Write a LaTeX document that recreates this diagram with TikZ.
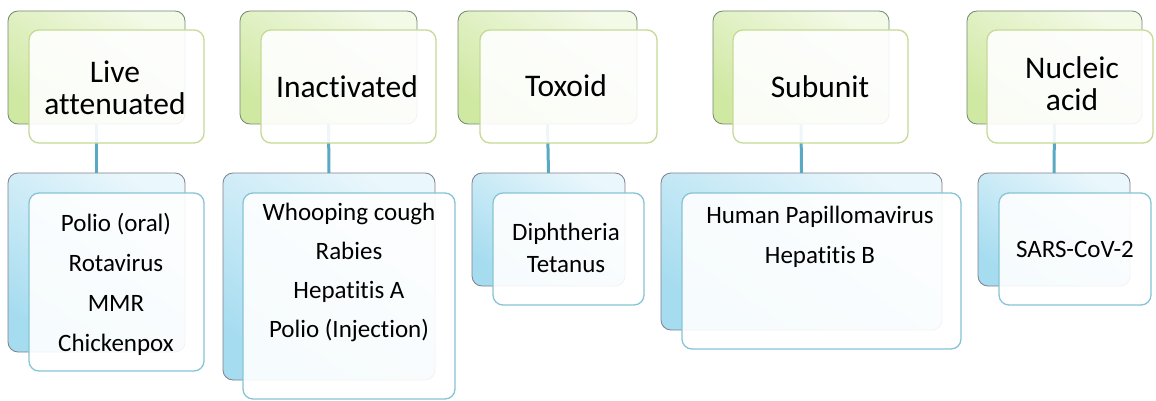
\documentclass[tikz,border=0pt]{standalone}
\usepackage{fontspec}
\setmainfont[RawFeature={-liga;-clig;-calt;-dlig}]{Carlito}
\begin{document}
\begin{tikzpicture}[x=1pt,y=-1pt,
  backgreen/.style={rectangle,rounded corners=10pt,draw=green!15!black!55,line width=0.8pt,
    top color=greenR,bottom color=greenL,shading angle=-35,inner sep=0pt,outer sep=0pt},
  frontgreen/.style={rectangle,rounded corners=10pt,draw=greenB,line width=1.3pt,
    fill=white,fill opacity=0.9,draw opacity=1,inner sep=0pt,outer sep=0pt},
  backblue/.style={rectangle,rounded corners=10pt,draw=blue!10!black!50,line width=0.8pt,
    top color=blueR,bottom color=blueL,shading angle=-35,inner sep=0pt,outer sep=0pt},
  frontblue/.style={rectangle,rounded corners=10pt,draw=blueB,line width=1.3pt,
    fill=white,fill opacity=0.9,draw opacity=1,inner sep=0pt,outer sep=0pt},
  link/.style={draw=linkC,line width=3pt},
  toplabel/.style={font=\fontsize{31.5}{32}\selectfont,align=center,text=black,inner sep=0pt},
  botlabel/.style={font=\fontsize{25}{40}\selectfont,align=center,text=black,inner sep=0pt},
]
\definecolor{greenL}{HTML}{CFE8A2}
\definecolor{greenR}{HTML}{F4FAE8}
\definecolor{greenB}{HTML}{C6DA96}
\definecolor{blueL}{HTML}{A6DCF0}
\definecolor{blueR}{HTML}{EAF7FC}
\definecolor{blueB}{HTML}{86C4D6}
\definecolor{linkC}{HTML}{5AA9C4}
\useasboundingbox[fill=white] (0,0) rectangle (1156,401);

% back boxes
\node[backgreen,minimum width=177pt,minimum height=113pt] (t1b) at (96.5,67.5) {};
\node[backgreen,minimum width=177pt,minimum height=113pt] (t2b) at (328.5,67.5) {};
\node[backgreen,minimum width=179pt,minimum height=113pt] (t3b) at (547.5,67.5) {};
\node[backgreen,minimum width=176pt,minimum height=113pt] (t4b) at (801,67.5) {};
\node[backgreen,minimum width=175pt,minimum height=113pt] (t5b) at (1054.5,67.5) {};

\node[backblue,minimum width=177pt,minimum height=179pt] (b1b) at (96.5,262.5) {};
\node[backblue,minimum width=212pt,minimum height=207pt] (b2b) at (329,276.5) {};
\node[backblue,minimum width=153pt,minimum height=113pt] (b3b) at (548.5,229.5) {};
\node[backblue,minimum width=281pt,minimum height=157pt] (b4b) at (801.5,251.5) {};
\node[backblue,minimum width=152pt,minimum height=113pt] (b5b) at (1054,229.5) {};

% connectors
\draw[link] (t1b.south) -- (b1b.north);
\draw[link] (t2b.south) -- (b2b.north);
\draw[link] (t3b.south) -- (b3b.north);
\draw[link] (t4b.south) -- (b4b.north);
\draw[link] (t5b.south) -- (b5b.north);

% front boxes
\node[frontgreen,minimum width=175pt,minimum height=113pt] (t1f) at (116.5,86.5) {};
\node[frontgreen,minimum width=175pt,minimum height=113pt] (t2f) at (348.5,86.5) {};
\node[frontgreen,minimum width=177pt,minimum height=113pt] (t3f) at (568.5,86.5) {};
\node[frontgreen,minimum width=175pt,minimum height=113pt] (t4f) at (820.5,86.5) {};
\node[frontgreen,minimum width=166pt,minimum height=113pt] (t5f) at (1070,86.5) {};

\node[frontblue,minimum width=175pt,minimum height=178pt] (b1f) at (116.5,282) {};
\node[frontblue,minimum width=212pt,minimum height=206pt] (b2f) at (349,296) {};
\node[frontblue,minimum width=151pt,minimum height=112pt] (b3f) at (568.5,249) {};
\node[frontblue,minimum width=279pt,minimum height=156pt] (b4f) at (821.5,271) {};
\node[frontblue,minimum width=152pt,minimum height=112pt] (b5f) at (1075,249) {};

% labels
\node[toplabel] (l1) at (115,88) {Live\\attenuated};
\node[toplabel] (l2) at (347,87) {Inactivated};
\node[toplabel] (l3) at (566,86) {Toxoid};
\node[toplabel] (l4) at (820,87) {Subunit};
\node[toplabel] (l5) at (1072,84) {Nucleic\\acid};

\node[botlabel] (x1) at (116,284) {Polio (oral)\\Rotavirus\\MMR\\Chickenpox};
\node[botlabel,font=\fontsize{25}{39}\selectfont] (x2) at (349,272) {Whooping cough\\Rabies\\Hepatitis A\\Polio (Injection)};
\node[botlabel,font=\fontsize{25}{32}\selectfont] (x3) at (566,248) {Diphtheria\\Tetanus};
\node[botlabel] (x4) at (820,237) {Human Papillomavirus\\Hepatitis B};
\node[botlabel] (x5) at (1075,249) {SARS-CoV-2};
\end{tikzpicture}
\end{document}
